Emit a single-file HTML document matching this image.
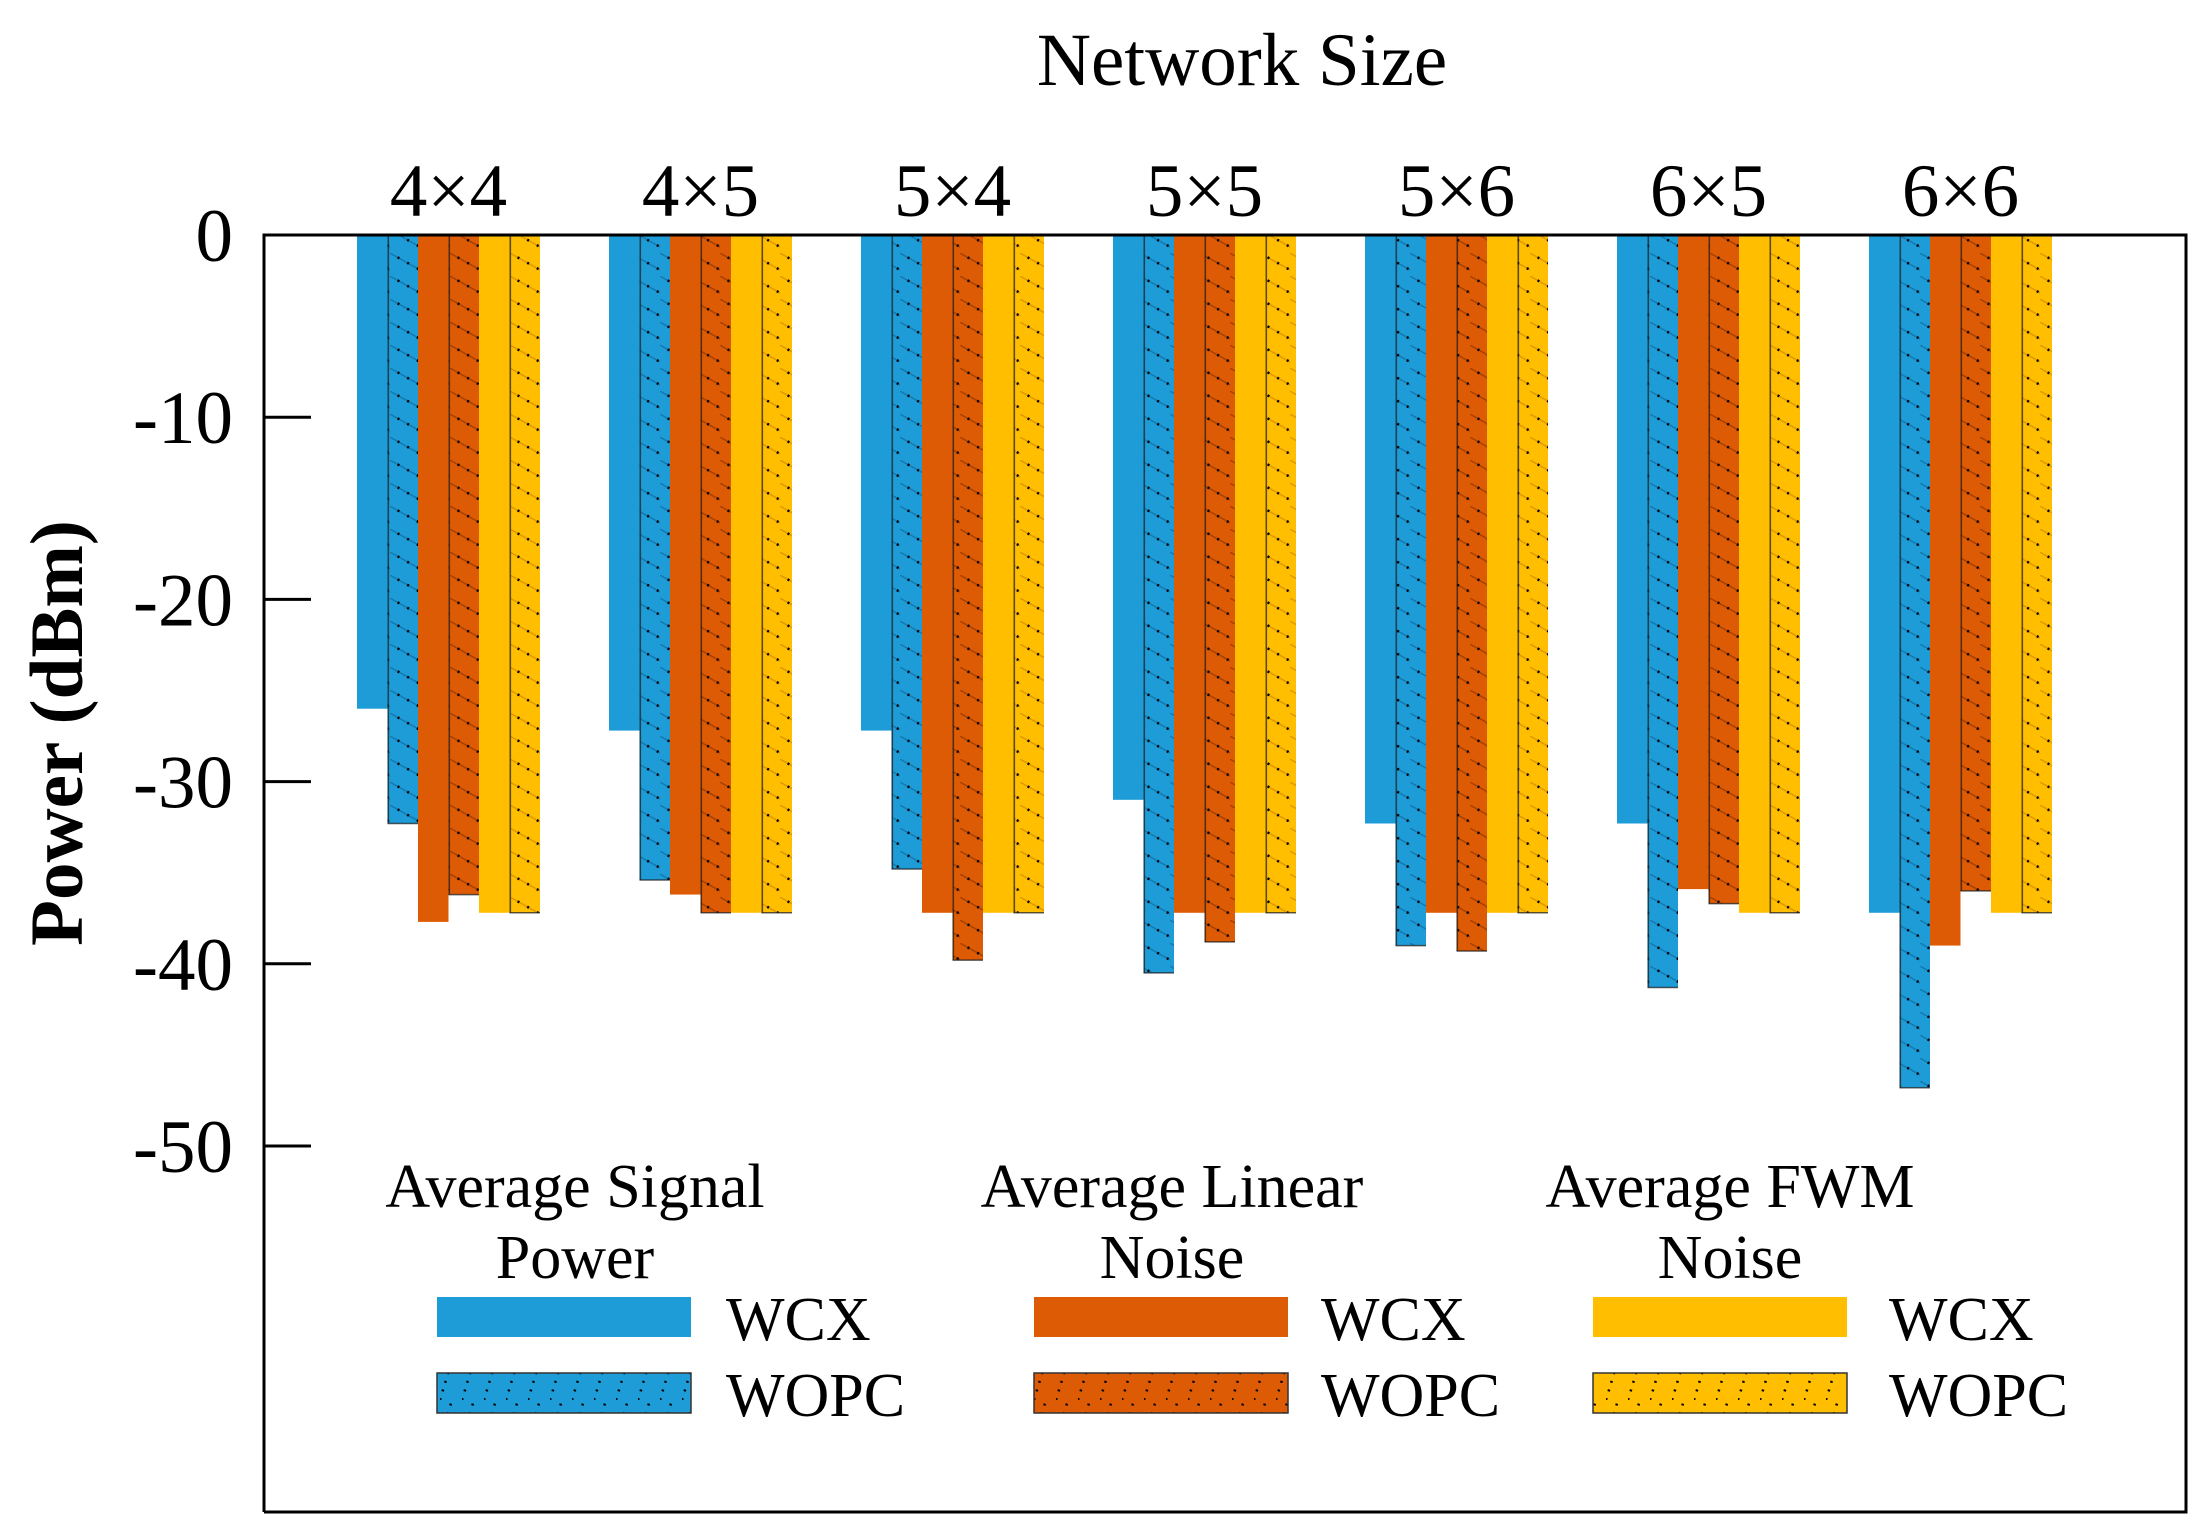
<!DOCTYPE html>
<html><head><meta charset="utf-8"><style>
html,body{margin:0;padding:0;background:#fff}
svg{display:block;font-family:"Liberation Serif",serif}
</style></head><body>
<svg id="chart" width="2211" height="1539" viewBox="0 0 2211 1539" xmlns="http://www.w3.org/2000/svg">
<defs>
<pattern id="hb" patternUnits="userSpaceOnUse" width="30" height="23"><rect width="30" height="23" fill="#1e9cd8"/><line x1="-2" y1="-1" x2="32" y2="18" stroke="#137ab0" stroke-width="1.5"/><line x1="-2" y1="-1" x2="32" y2="18" stroke="#000" stroke-width="2.5" stroke-dasharray="2 9"/></pattern>
<pattern id="ho" patternUnits="userSpaceOnUse" width="30" height="23"><rect width="30" height="23" fill="#de5b05"/><line x1="-2" y1="-1" x2="32" y2="18" stroke="#a84000" stroke-width="1.5"/><line x1="-2" y1="-1" x2="32" y2="18" stroke="#000" stroke-width="2.5" stroke-dasharray="2 9"/></pattern>
<pattern id="hy" patternUnits="userSpaceOnUse" width="30" height="23"><rect width="30" height="23" fill="#ffbe00"/><line x1="-2" y1="-1" x2="32" y2="18" stroke="#e09a00" stroke-width="1.5"/><line x1="-2" y1="-1" x2="32" y2="18" stroke="#000" stroke-width="2.5" stroke-dasharray="2 9"/></pattern>
<pattern id="lb" patternUnits="userSpaceOnUse" width="22" height="40"><rect width="22" height="40" fill="#1e9cd8"/><line x1="0" y1="40" x2="12" y2="0" stroke="#000" stroke-width="2.5" stroke-dasharray="2 7"/></pattern>
<pattern id="lo" patternUnits="userSpaceOnUse" width="22" height="40"><rect width="22" height="40" fill="#de5b05"/><line x1="0" y1="40" x2="12" y2="0" stroke="#000" stroke-width="2.5" stroke-dasharray="2 7"/></pattern>
<pattern id="ly" patternUnits="userSpaceOnUse" width="22" height="40"><rect width="22" height="40" fill="#ffbe00"/><line x1="0" y1="40" x2="12" y2="0" stroke="#000" stroke-width="2.5" stroke-dasharray="2 7"/></pattern>
</defs>
<g id="bars"></g>
<g id="axes"></g>
<g id="legend"></g>
</svg>
<script>
const categories = ["4×4","4×5","5×4","5×5","5×6","6×5","6×6"];
const signalWCX  = [-26.0,-27.2,-27.2,-31.0,-32.3,-32.3,-37.2];
const signalWOPC = [-32.3,-35.4,-34.8,-40.5,-39.0,-41.3,-46.8];
const linearWCX  = [-37.7,-36.2,-37.2,-37.2,-37.2,-35.9,-39.0];
const linearWOPC = [-36.2,-37.2,-39.8,-38.8,-39.3,-36.7,-36.0];
const fwmWCX     = [-37.2,-37.2,-37.2,-37.2,-37.2,-37.2,-37.2];
const fwmWOPC    = [-37.2,-37.2,-37.2,-37.2,-37.2,-37.2,-37.2];
const yTicks = [0,-10,-20,-30,-40,-50];

const NS="http://www.w3.org/2000/svg";
const X0=264, X1=2186, Y0=235, Y1=1512;
const yScale = v => Y0 + (-v)*18.22;
const groupStart = i => 357 + i*252;
const BW=30.5;
function mk(tag, attrs, parent){const e=document.createElementNS(NS,tag);for(const k in attrs)e.setAttribute(k,attrs[k]);parent.appendChild(e);return e;}
const bars=document.getElementById('bars'), axes=document.getElementById('axes'), legend=document.getElementById('legend');

const series=[
 {vals:signalWCX,fill:"#1e9cd8",name:"signal-wcx"},
 {vals:signalWOPC,fill:"url(#hb)",name:"signal-wopc",edge:true},
 {vals:linearWCX,fill:"#de5b05",name:"linear-wcx"},
 {vals:linearWOPC,fill:"url(#ho)",name:"linear-wopc",edge:true},
 {vals:fwmWCX,fill:"#ffbe00",name:"fwm-wcx"},
 {vals:fwmWOPC,fill:"url(#hy)",name:"fwm-wopc",edge:true}
];
categories.forEach((c,i)=>{
  series.forEach((s,j)=>{
    const x=groupStart(i)+j*BW, y2=yScale(s.vals[i]);
    const r=mk('rect',{x:x,y:Y0,width:BW,height:y2-Y0,fill:s.fill},bars);
    
    
    if(s.edge){
      const l=mk('line',{x1:x+0.8,y1:Y0,x2:x+0.8,y2:y2,stroke:"#1a1a1a","stroke-width":1.6,opacity:0.7},bars);
      
      
      const b=mk('line',{x1:x,y1:y2,x2:x+BW,y2:y2,stroke:"#1a1a1a","stroke-width":1.5,opacity:0.7},bars);
      
      
    }
  });
  const t=mk('text',{x:groupStart(i)+3*BW,y:216,"text-anchor":"middle","font-size":75},axes);
  t.textContent=c;
  
  
});
// frame
const f=mk('path',{d:`M${X0},${Y1} L${X0},${Y0} L${X1},${Y0} L${X1},${Y1} L${X0},${Y1}`,fill:"none",stroke:"#000","stroke-width":3},axes);


yTicks.forEach(v=>{
  const y=yScale(v);
  const tk=mk('line',{x1:X0,y1:y,x2:X0+47,y2:y,stroke:"#000","stroke-width":3},axes);
  
  
  const t=mk('text',{x:233,y:y+26,"text-anchor":"end","font-size":75},axes);
  t.textContent=String(v);
  
  
});
const title=mk('text',{x:1242,y:85,"text-anchor":"middle","font-size":75},axes);
title.textContent="Network Size";


const yt=mk('text',{x:0,y:0,"text-anchor":"middle","font-size":75,"font-weight":"bold",transform:"translate(82,733) rotate(-90)"},axes);
yt.textContent="Power (dBm)";



// legend
const legCols=[
 {l1:"Average Signal",l2:"Power",cx:575,sx:437,tx:726,solid:"#1e9cd8",hatch:"url(#lb)",name:"signal"},
 {l1:"Average Linear",l2:"Noise",cx:1172,sx:1034,tx:1321,solid:"#de5b05",hatch:"url(#lo)",name:"linear"},
 {l1:"Average FWM",l2:"Noise",cx:1730,sx:1593,tx:1889,solid:"#ffbe00",hatch:"url(#ly)",name:"fwm"}
];
legCols.forEach(c=>{
  const a=mk('text',{x:c.cx,y:1207,"text-anchor":"middle","font-size":62},legend);
  a.textContent=c.l1;
  
  
  const b=mk('text',{x:c.cx,y:1278,"text-anchor":"middle","font-size":62},legend);
  b.textContent=c.l2;
  
  
  const s1=mk('rect',{x:c.sx,y:1297,width:254,height:40,fill:c.solid},legend);
  
  
  const s2=mk('rect',{x:c.sx,y:1373,width:254,height:40,fill:c.hatch,stroke:"#333","stroke-width":1.5},legend);
  
  
  const t1=mk('text',{x:c.tx,y:1340,"font-size":62},legend);
  t1.textContent="WCX";
  
  
  const t2=mk('text',{x:c.tx,y:1416,"font-size":62},legend);
  t2.textContent="WOPC";
  
  
});
</script>
</body></html>
